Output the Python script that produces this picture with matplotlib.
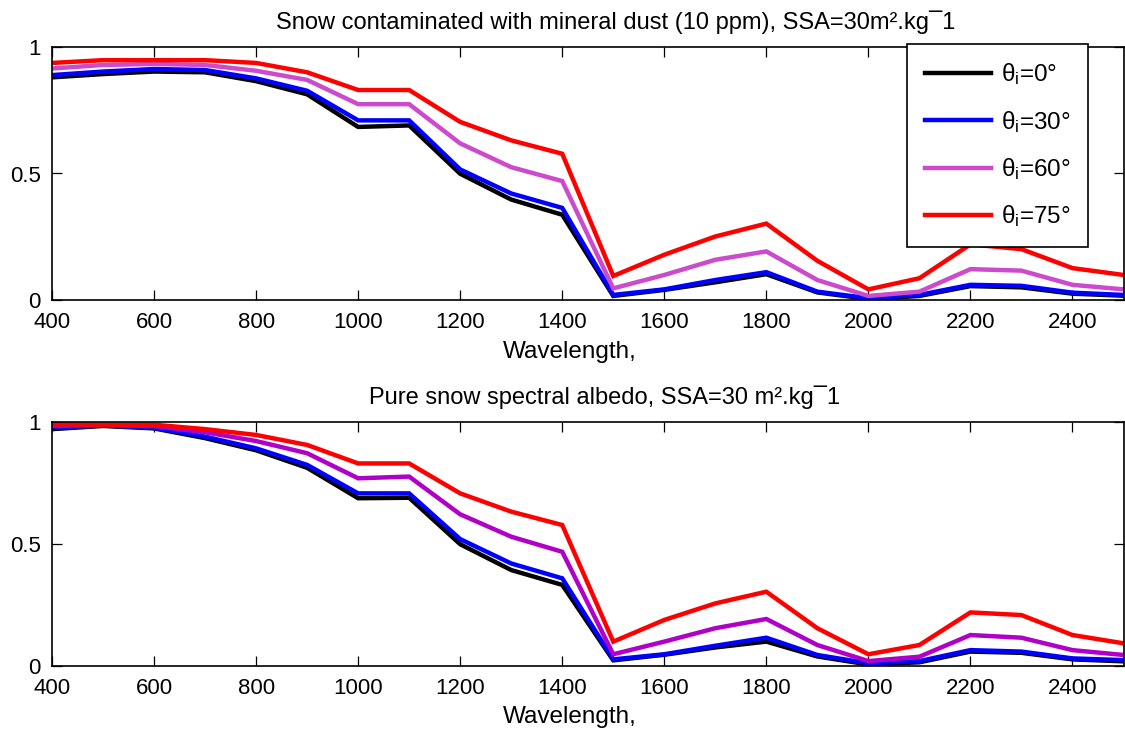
import matplotlib
matplotlib.use("Agg")
import matplotlib.pyplot as plt

plt.rcParams['font.family'] = ['Liberation Sans', 'DejaVu Sans']
plt.rcParams['mathtext.fontset'] = 'custom'
plt.rcParams['mathtext.rm'] = 'Liberation Sans'
plt.rcParams['mathtext.it'] = 'Liberation Sans:italic'

wavelength = [400, 500, 600, 700, 800, 900, 1000, 1100, 1200, 1300, 1400,
              1500, 1600, 1700, 1800, 1900, 2000, 2100, 2200, 2300, 2400, 2500]

labels = [r'θ$_{\mathrm{i}}$=0°', r'θ$_{\mathrm{i}}$=30°',
          r'θ$_{\mathrm{i}}$=60°', r'θ$_{\mathrm{i}}$=75°']

# Snow contaminated with mineral dust
dust_0 = [0.880, 0.893, 0.903, 0.900, 0.865, 0.813, 0.684, 0.690, 0.499, 0.397, 0.337,
          0.016, 0.040, 0.070, 0.102, 0.030, 0.004, 0.016, 0.055, 0.050, 0.025, 0.017]
dust_30 = [0.889, 0.903, 0.913, 0.909, 0.876, 0.827, 0.710, 0.710, 0.516, 0.421, 0.364,
           0.020, 0.042, 0.079, 0.110, 0.033, 0.007, 0.020, 0.060, 0.056, 0.029, 0.020]
dust_60 = [0.915, 0.929, 0.933, 0.929, 0.906, 0.870, 0.774, 0.774, 0.619, 0.525, 0.470,
           0.046, 0.099, 0.159, 0.192, 0.079, 0.016, 0.033, 0.122, 0.116, 0.060, 0.042]
dust_75 = [0.937, 0.948, 0.948, 0.948, 0.937, 0.900, 0.830, 0.830, 0.704, 0.631, 0.578,
           0.095, 0.179, 0.251, 0.302, 0.155, 0.042, 0.086, 0.220, 0.201, 0.126, 0.099]

# Pure snow
pure_0 = [0.972, 0.985, 0.975, 0.935, 0.885, 0.813, 0.688, 0.690, 0.499, 0.393, 0.332,
          0.022, 0.045, 0.075, 0.099, 0.038, 0.005, 0.014, 0.058, 0.053, 0.026, 0.018]
pure_30 = [0.978, 0.987, 0.977, 0.941, 0.893, 0.825, 0.708, 0.708, 0.520, 0.420, 0.359,
           0.026, 0.047, 0.082, 0.115, 0.044, 0.010, 0.019, 0.064, 0.058, 0.030, 0.023]
pure_60 = [0.985, 0.988, 0.985, 0.959, 0.923, 0.873, 0.770, 0.777, 0.622, 0.530, 0.468,
           0.047, 0.099, 0.154, 0.192, 0.085, 0.019, 0.037, 0.126, 0.115, 0.064, 0.044]
pure_75 = [0.992, 0.990, 0.990, 0.972, 0.948, 0.907, 0.831, 0.831, 0.708, 0.633, 0.578,
           0.099, 0.188, 0.256, 0.304, 0.154, 0.047, 0.085, 0.219, 0.208, 0.126, 0.092]

x_ticks = [400, 600, 800, 1000, 1200, 1400, 1600, 1800, 2000, 2200, 2400]
y_ticks = [0, 0.5, 1]
y_ticklabels = ['0', '0.5', '1']

title_top = 'Snow contaminated with mineral dust (10 ppm), SSA=30m².kg\u00af1'
title_bottom = 'Pure snow spectral albedo, SSA=30 m².kg\u00af1'
xlabel = 'Wavelength,'

W, H = 1125, 737
fig = plt.figure(figsize=(W / 100, H / 100), dpi=100)
fig.patch.set_facecolor('white')


def px_axes(x0, y0, x1, y1):
    return fig.add_axes([x0 / W, 1 - y1 / H, (x1 - x0) / W, (y1 - y0) / H])


ax_top = px_axes(52, 47, 1123.5, 300)
ax_bot = px_axes(52, 422.3, 1123.5, 665.7)

colors_top = ['#000000', '#0000FF', '#CC4ACC', '#FF0000']
colors_bot = ['#000000', '#0000FF', '#B000C8', '#FF0000']

panels = [
    (ax_top, [dust_0, dust_30, dust_60, dust_75], colors_top, title_top, 0.526, 341),
    (ax_bot, [pure_0, pure_30, pure_60, pure_75], colors_bot, title_bottom, 0.516, 706),
]

for ax, series, cols, title, tx, xl_top in panels:
    for s, c, lab in zip(series, cols, labels):
        ax.plot(wavelength, s, color=c, lw=3.2, label=lab, solid_joinstyle='miter')
    ax.set_xlim(400, 2500)
    ax.set_ylim(0, 1)
    ax.set_xticks(x_ticks)
    ax.set_xticklabels([str(v) for v in x_ticks])
    ax.set_yticks(y_ticks)
    ax.set_yticklabels(y_ticklabels)
    ax.tick_params(direction='in', top=True, right=True, length=7, width=0.9,
                   labelsize=16, colors='black')
    ax.tick_params(axis='x', pad=9)
    ax.tick_params(axis='y', pad=8)
    for sp in ax.spines.values():
        sp.set_linewidth(1.2)
        sp.set_color('black')
    ax.set_title(title, fontsize=17, x=tx, pad=13)
    ax.set_xlabel(xlabel, fontsize=17.5)
    ax.xaxis.set_label_coords(570 / W, 1 - xl_top / H, transform=fig.transFigure)

leg = ax_top.legend(loc='upper left', bbox_to_anchor=(907 / W, 1 - 44 / H),
                    bbox_transform=fig.transFigure, fontsize=17.5, frameon=True,
                    fancybox=False, edgecolor='black', borderaxespad=0,
                    handlelength=2.75, handletextpad=0.4, labelspacing=0.88,
                    borderpad=0.72)
leg.get_frame().set_linewidth(1.2)
leg.get_frame().set_alpha(1)

fig.savefig('out.png', dpi=100, facecolor='white')
